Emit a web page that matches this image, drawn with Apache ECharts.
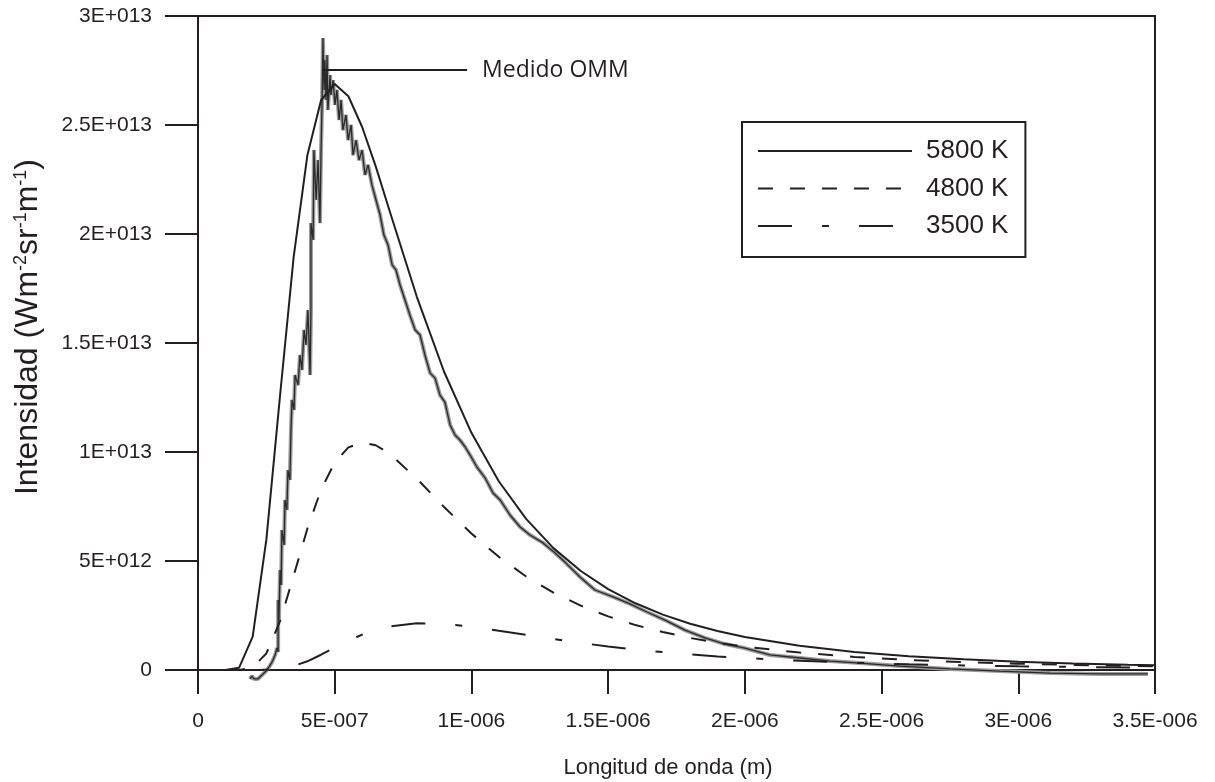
<!DOCTYPE html>
<html>
<head>
<meta charset="utf-8">
<script src="https://cdn.jsdelivr.net/npm/echarts@6/dist/echarts.min.js"></script>
<style>html,body{margin:0;padding:0;background:#fff}#c{width:1215px;height:782px}</style>
</head>
<body>
<div id="c"></div>
<script>
// wavelength in units of 1E-7 m, intensity in units of 1E+12 W m-2 sr-1 m-1
const xTickLabels = ['0','5E-007','1E-006','1.5E-006','2E-006','2.5E-006','3E-006','3.5E-006'];
const yTickLabels = ['0','5E+012','1E+013','1.5E+013','2E+013','2.5E+013','3E+013'];
const seriesNames = ['5800 K','4800 K','3500 K'];
const xTitle = 'Longitud de onda (m)';
const yTitleRich = 'Intensidad (Wm{s|-2}sr{s|-1}m{s|-1})';

const bbWl = [0,0.5,1,1.5,2,2.5,3,3.5,4,4.5,5,5.5,6,6.5,7,8,9,10,11,12,13,14,15,16,17,18,19,20,22,24,26,28,30,32,34,35];
const bb5800 = [0,0,0,0.10,1.53,5.98,12.58,18.96,23.61,26.14,26.88,26.32,24.92,23.10,21.09,17.13,13.68,10.88,8.66,6.93,5.59,4.54,3.71,3.06,2.54,2.12,1.79,1.51,1.11,0.83,0.63,0.49,0.38,0.30,0.24,0.22];
const bb4800 = [0,0,0,0,0.12,0.76,2.24,4.33,6.48,8.27,9.52,10.21,10.43,10.31,9.93,8.78,7.48,6.26,5.19,4.29,3.55,2.95,2.46,2.06,1.74,1.47,1.25,1.07,0.80,0.60,0.46,0.36,0.29,0.23,0.19,0.17];
const bb3500 = [0,0,0,0,0,0.01,0.06,0.18,0.40,0.70,1.03,1.34,1.62,1.84,2.00,2.14,2.12,1.99,1.80,1.61,1.42,1.24,1.08,0.94,0.82,0.72,0.62,0.55,0.42,0.33,0.26,0.21,0.17,0.14,0.12,0.11];

const ommWl = [1.90,1.97,2.05,2.19,2.34,2.49,2.60,2.71,2.82,2.89,2.93,2.93,2.96,3.00,3.04,3.07,3.15,3.18,3.25,3.29,3.36,3.40,3.44,3.51,3.55,3.66,3.73,3.80,3.88,3.95,4.02,4.10,4.13,4.13,4.21,4.24,4.32,4.39,4.46,4.50,4.54,4.57,4.61,4.64,4.68,4.72,4.75,4.83,4.86,4.94,5.01,5.08,5.16,5.23,5.30,5.41,5.49,5.60,5.67,5.78,5.89,6.00,6.11,6.22,6.36,6.51,6.66,6.80,6.95,7.10,7.24,7.39,7.57,7.75,7.94,8.12,8.30,8.49,8.67,8.85,9.03,9.22,9.40,9.58,9.77,9.95,10.20,10.50,10.79,11.05,11.41,11.78,12.14,12.62,13.06,13.42,13.97,14.52,15.18,15.80,16.42,17.08,17.81,18.54,19.27,19.97,20.92,22.02,23.11,24.21,25.67,27.50,29.33,31.16,32.99,34.74];
const ommVal = [-0.41,-0.28,-0.41,-0.41,-0.23,-0.05,0.14,0.37,0.69,1.01,0.83,3.21,2.29,4.59,3.90,6.42,5.73,7.80,7.34,9.17,8.72,11.01,12.39,11.93,13.53,13.07,14.45,13.76,15.60,14.91,16.51,13.53,16.51,20.50,19.72,23.85,21.56,23.39,20.50,23.85,26.15,28.99,26.61,27.98,26.15,28.21,25.69,27.29,26.38,27.06,25.92,26.61,25.23,26.15,24.77,25.46,24.31,25.00,23.62,24.31,23.39,23.85,22.71,23.17,22.25,21.56,20.87,19.95,19.50,18.58,18.35,17.66,16.97,16.28,15.60,15.37,14.45,13.62,13.39,12.61,12.29,11.24,10.78,10.55,10.23,9.86,9.31,8.81,8.12,7.80,7.11,6.56,6.19,5.83,5.37,4.95,4.27,3.67,3.35,3.03,2.66,2.29,1.83,1.47,1.19,1.01,0.69,0.55,0.41,0.32,0.18,0.05,-0.05,-0.14,-0.18,-0.18];

const annotLabel = 'Medido OMM';
const annotY = 27.52;
const annotX = [4.54, 9.84];

const ink = '#231f20';
const zip = (a, b) => a.map((v, i) => [v, b[i]]);
const ommData = zip(ommWl, ommVal);

const chart = echarts.init(document.getElementById('c'), null, {renderer: 'canvas'});
chart.setOption({
  animation: false,
  backgroundColor: '#fff',
  grid: {left: 198, right: 60, top: 16, bottom: 112, show: true, borderColor: ink, borderWidth: 2, outerBoundsMode: 'none'},
  legend: {
    data: seriesNames, orient: 'vertical', left: 742, top: 122,
    padding: [16, 17, 18, 15], itemGap: 11.5, itemWidth: 154, itemHeight: 14,
    borderColor: ink, borderWidth: 2, backgroundColor: '#fff',
    itemStyle: {color: 'transparent', borderColor: 'transparent', borderWidth: 0, opacity: 0},
    textStyle: {fontFamily: 'Liberation Sans', fontSize: 26, color: ink, padding: [0, 0, 0, 9]}
  },
  graphic: [
    {type: 'text', x: 668, y: 768, silent: true,
      style: {text: xTitle, fill: ink, font: '22px "Liberation Sans"', align: 'center', verticalAlign: 'middle'}},
    {type: 'text', x: 28, y: 327, rotation: Math.PI / 2, silent: true,
      style: {text: yTitleRich, fill: ink, font: '32px "Liberation Sans"', fontFamily: 'Liberation Sans', fontSize: 32,
        align: 'center', verticalAlign: 'middle',
        rich: {s: {fontFamily: 'Liberation Sans', fontSize: 18, fill: ink, verticalAlign: 'top', lineHeight: 18}}}}
  ],
  xAxis: {
    type: 'value', min: 0, max: 35, interval: 5,
    axisLine: {onZero: false, lineStyle: {color: ink, width: 2}},
    axisTick: {length: 24, lineStyle: {color: ink, width: 2}},
    axisLabel: {margin: 41, fontFamily: 'Liberation Sans', fontSize: 21, color: ink,
      formatter: v => xTickLabels[Math.round(v / 5)]},
    splitLine: {show: false}
  },
  yAxis: {
    type: 'value', min: 0, max: 30, interval: 5,
    axisLine: {show: true, lineStyle: {color: ink, width: 2}},
    axisTick: {show: true, length: 33, lineStyle: {color: ink, width: 2}},
    axisLabel: {margin: 46, fontFamily: 'Liberation Sans', fontSize: 21, color: ink,
      formatter: v => yTickLabels[Math.round(v / 5)]},
    splitLine: {show: false}
  },
  series: [
    {name: 'OMM', type: 'line', data: ommData, symbol: 'none', clip: false,
      lineStyle: {color: '#9b9b9b', width: 4}, z: 1,
      markLine: {silent: true, symbol: ['none', 'none'],
        lineStyle: {color: ink, width: 2, type: 'solid'},
        label: {show: true, position: 'end', distance: 15, formatter: annotLabel,
          fontFamily: 'Open Sans', fontSize: 23, color: ink},
        data: [[{coord: [annotX[0], annotY]}, {coord: [annotX[1], annotY]}]]}},
    {name: 'OMM core', type: 'line', data: ommData, symbol: 'none', clip: false,
      lineStyle: {color: '#2a2a2a', width: 1.3}, z: 2},
    {name: seriesNames[0], type: 'line', data: zip(bbWl, bb5800), symbol: 'none',
      lineStyle: {color: ink, width: 2, type: 'solid'}, itemStyle: {color: ink}, z: 3},
    {name: seriesNames[1], type: 'line', data: zip(bbWl, bb4800), symbol: 'none',
      lineStyle: {color: ink, width: 2, type: [15, 17]}, itemStyle: {color: ink}, z: 3},
    {name: seriesNames[2], type: 'line', data: zip(bbWl, bb3500), symbol: 'none',
      lineStyle: {color: ink, width: 2, type: [34, 30, 7, 30]}, itemStyle: {color: ink}, z: 3}
  ]
});
</script>
</body>
</html>
